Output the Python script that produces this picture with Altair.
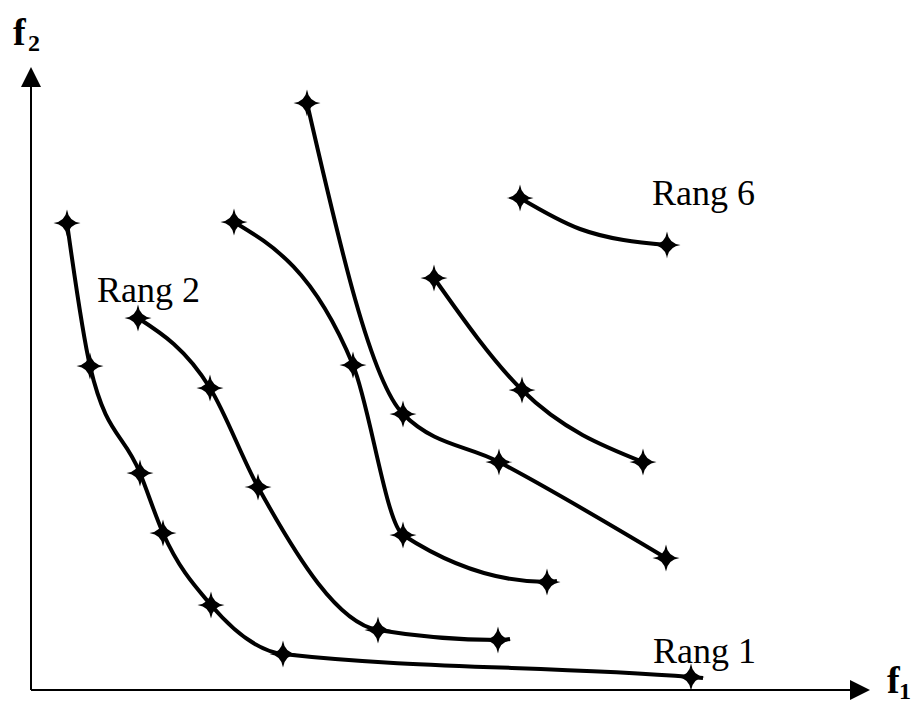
import altair as alt
import pandas as pd

# Pareto ranks (f1, f2); origin of axes = (0, 0)
rang1_f1 = [36, 59, 109, 132, 180, 252, 660]
rang1_f2 = [466, 323, 216, 156, 84, 35, 12]
rang2_f1 = [107, 179, 227, 347, 467]
rang2_f2 = [371, 301, 202, 59, 49]
rang3_f1 = [203, 322, 372, 516]
rang3_f2 = [467, 324, 154, 107]
rang4_f1 = [276, 372, 468, 635]
rang4_f2 = [586, 275, 227, 131]
rang5_f1 = [403, 491, 612]
rang5_f2 = [411, 299, 227]
rang6_f1 = [489, 636]
rang6_f2 = [491, 444]
# unmarked points along the drawn curves (line ends and bends)
extra = {"Rang 1": [(672, 11)], "Rang 2": [(479, 50)], "Rang 3": [(526, 108)],
         "Rang 6": [(549, 460)]}

series = {
    "Rang 1": (rang1_f1, rang1_f2),
    "Rang 2": (rang2_f1, rang2_f2),
    "Rang 3": (rang3_f1, rang3_f2),
    "Rang 4": (rang4_f1, rang4_f2),
    "Rang 5": (rang5_f1, rang5_f2),
    "Rang 6": (rang6_f1, rang6_f2),
}

rows = []
for name, (xs_, ys_) in series.items():
    for x, y in zip(xs_, ys_):
        rows.append({"rang": name, "f1": x, "f2": y, "marker": True})
    for x, y in extra.get(name, []):
        rows.append({"rang": name, "f1": x, "f2": y, "marker": False})
df = pd.DataFrame(rows)

label_text = ["Rang 2", "Rang 6", "Rang 1"]
label_f1 = [66, 621, 622]
label_f2 = [387, 484, 26]
labels = pd.DataFrame({"t": label_text, "f1": label_f1, "f2": label_f2})

xs = alt.Scale(domain=[-23, 882], nice=False, zero=False)
ys = alt.Scale(domain=[-19, 681], nice=False, zero=False)
X = lambda: alt.X("f1:Q", scale=xs, axis=None)
Y = lambda: alt.Y("f2:Q", scale=ys, axis=None)

STAR = "M0,-1 Q0.12,-0.12 1,0 Q0.12,0.12 0,1 Q-0.12,0.12 -1,0 Q-0.12,-0.12 0,-1 Z"

lines = alt.Chart(df).mark_line(interpolate="monotone", color="black", strokeWidth=4).encode(
    x=X(), y=Y(), detail="rang:N", order="f1:Q"
)
stars = alt.Chart(df).transform_filter("datum.marker").mark_point(
    shape=STAR, size=729, filled=True, color="black", opacity=1
).encode(x=X(), y=Y())

axes_df = pd.DataFrame({
    "f1": [0, 0], "f2": [-1, -1], "f1e": [822, 0], "f2e": [-1, 604]
})
axes = alt.Chart(axes_df).mark_rule(color="black", strokeWidth=2).encode(
    x=alt.X("f1:Q", scale=xs, axis=None), y=alt.Y("f2:Q", scale=ys, axis=None),
    x2="f1e:Q", y2="f2e:Q"
)
arr_df = pd.DataFrame({"f1": [829, 0], "f2": [-1, 612],
                       "shape": ["M-1,-1 L1,0 L-1,1 Z", "M0,-1 L1,1 L-1,1 Z"]})
arrows = alt.Chart(arr_df).mark_point(filled=True, color="black", opacity=1, size=400).encode(
    x=X(), y=Y(), shape=alt.Shape("shape:N", scale=None)
)

txt = alt.Chart(labels).mark_text(
    font="Liberation Serif", fontSize=36, align="left", baseline="alphabetic", color="black"
).encode(x=X(), y=Y(), text="t:N")

f_df = pd.DataFrame({"t": ["f", "f"], "f1": [856, -18], "f2": [-4, 644]})
sub_df = pd.DataFrame({"t": ["1", "2"], "f1": [868, -3], "f2": [-10, 638]})
ftxt = alt.Chart(f_df).mark_text(
    font="Liberation Serif", fontSize=38, fontWeight="bold", align="left",
    baseline="alphabetic", color="black"
).encode(x=X(), y=Y(), text="t:N")
subtxt = alt.Chart(sub_df).mark_text(
    font="Liberation Serif", fontSize=24, fontWeight="bold", align="left",
    baseline="alphabetic", color="black"
).encode(x=X(), y=Y(), text="t:N")

chart = alt.layer(axes, arrows, lines, stars, txt, ftxt, subtxt).properties(
    width=905, height=700, padding=0, autosize=alt.AutoSizeParams(type="none"),
    background="white"
).configure_view(stroke=None)

chart.save("out.html", embed_options={"renderer": "svg", "actions": False})
